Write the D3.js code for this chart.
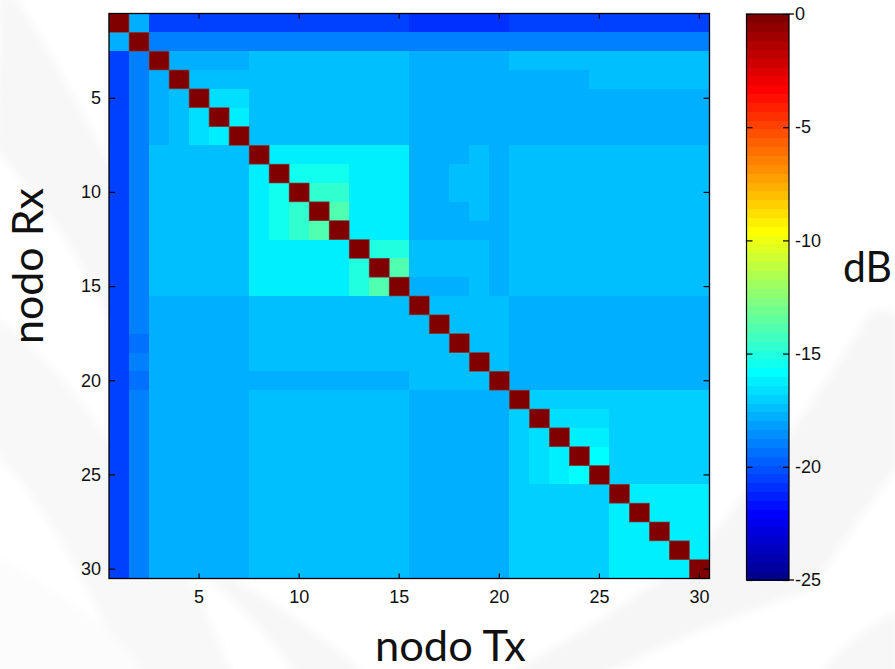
<!DOCTYPE html>
<html><head><meta charset="utf-8">
<script src="https://cdn.jsdelivr.net/npm/d3@7"></script>
<style>html,body{margin:0;padding:0;background:#fff}svg{display:block}
.tk{font-family:"Liberation Sans",Arial,sans-serif;font-size:18px;fill:#111}
.ttl{font-family:Lato,"Open Sans",sans-serif;font-size:42px;fill:#111}</style>
</head><body><svg id="c" width="895" height="669"></svg>
<script>
const nodes = d3.range(1, 31);
const tickNodes = [5, 10, 15, 20, 25, 30];
const dbTicks = [0, -5, -10, -15, -20, -25];
const labels = {x: "nodo Tx", y: "nodo Rx", bar: "dB"};
const jetIndex = [1, 8, 24, 40, 56, 64];
const jetColors = ["#00008f", "#0000ff", "#00ffff", "#ffff00", "#ff0000", "#800000"];
// received level in dB, row = Rx node, column = Tx node
const levelDb = [
[0,-17.8,-20.5,-20.5,-20.5,-20.5,-20.5,-20.5,-20.5,-20.5,-20.5,-20.5,-20.5,-20.5,-20.5,-20.9,-20.9,-20.9,-20.9,-20.9,-20.5,-20.5,-20.5,-20.5,-20.5,-20.5,-20.5,-20.5,-20.5,-20.5],
[-17.8,0,-18.9,-18.9,-18.9,-18.9,-18.9,-18.9,-18.9,-18.9,-18.9,-18.9,-18.9,-18.9,-18.9,-18.9,-18.9,-18.9,-18.9,-18.9,-18.9,-18.9,-18.9,-18.9,-18.9,-18.9,-18.9,-18.9,-18.9,-18.9],
[-20.5,-18.9,0,-17.8,-17.8,-17.8,-17.8,-17.4,-17.4,-17.4,-17.4,-17.4,-17.4,-17.4,-17.4,-17.8,-17.8,-17.8,-17.8,-17.8,-17.4,-17.4,-17.4,-17.4,-17.4,-17.4,-17.4,-17.4,-17.4,-17.4],
[-20.5,-18.9,-17.8,0,-17.4,-17.4,-17.4,-17.4,-17.4,-17.4,-17.4,-17.4,-17.4,-17.4,-17.4,-17.8,-17.8,-17.8,-17.8,-17.8,-17.8,-17.8,-17.8,-17.8,-17.4,-17.4,-17.4,-17.4,-17.4,-17.4],
[-20.5,-18.9,-17.8,-17.4,0,-16.6,-16.6,-17.4,-17.4,-17.4,-17.4,-17.4,-17.4,-17.4,-17.4,-17.8,-17.8,-17.8,-17.8,-17.8,-17.8,-17.8,-17.8,-17.8,-17.8,-17.8,-17.8,-17.8,-17.8,-17.8],
[-20.5,-18.9,-17.8,-17.4,-16.6,0,-16.2,-17.4,-17.4,-17.4,-17.4,-17.4,-17.4,-17.4,-17.4,-17.8,-17.8,-17.8,-17.8,-17.8,-17.8,-17.8,-17.8,-17.8,-17.8,-17.8,-17.8,-17.8,-17.8,-17.8],
[-20.5,-18.9,-17.8,-17.4,-16.6,-16.2,0,-17.4,-17.4,-17.4,-17.4,-17.4,-17.4,-17.4,-17.4,-17.8,-17.8,-17.8,-17.8,-17.8,-17.8,-17.8,-17.8,-17.8,-17.8,-17.8,-17.8,-17.8,-17.8,-17.8],
[-20.5,-18.9,-17.4,-17.4,-17.4,-17.4,-17.4,0,-16.2,-16.2,-16.2,-16.2,-16.2,-16.2,-16.2,-17.8,-17.8,-17.8,-17.4,-17.8,-17.4,-17.4,-17.4,-17.4,-17.4,-17.4,-17.4,-17.4,-17.4,-17.4],
[-20.5,-18.9,-17.4,-17.4,-17.4,-17.4,-17.4,-16.2,0,-15.4,-15.4,-15.4,-16.2,-16.2,-16.2,-17.8,-17.8,-17.4,-17.4,-17.8,-17.4,-17.4,-17.4,-17.4,-17.4,-17.4,-17.4,-17.4,-17.4,-17.4],
[-20.5,-18.9,-17.4,-17.4,-17.4,-17.4,-17.4,-16.2,-15.4,0,-14.6,-14.6,-16.2,-16.2,-16.2,-17.8,-17.8,-17.4,-17.4,-17.8,-17.4,-17.4,-17.4,-17.4,-17.4,-17.4,-17.4,-17.4,-17.4,-17.4],
[-20.5,-18.9,-17.4,-17.4,-17.4,-17.4,-17.4,-16.2,-15.4,-14.6,0,-13.9,-16.2,-16.2,-16.2,-17.8,-17.8,-17.8,-17.4,-17.8,-17.4,-17.4,-17.4,-17.4,-17.4,-17.4,-17.4,-17.4,-17.4,-17.4],
[-20.5,-18.9,-17.4,-17.4,-17.4,-17.4,-17.4,-16.2,-15.4,-14.6,-13.9,0,-16.2,-16.2,-16.2,-17.8,-17.8,-17.8,-17.8,-17.8,-17.4,-17.4,-17.4,-17.4,-17.4,-17.4,-17.4,-17.4,-17.4,-17.4],
[-20.5,-18.9,-17.4,-17.4,-17.4,-17.4,-17.4,-16.2,-16.2,-16.2,-16.2,-16.2,0,-15,-15,-17.4,-17.4,-17.4,-17.4,-17.8,-17.4,-17.4,-17.4,-17.4,-17.4,-17.4,-17.4,-17.4,-17.4,-17.4],
[-20.5,-18.9,-17.4,-17.4,-17.4,-17.4,-17.4,-16.2,-16.2,-16.2,-16.2,-16.2,-15,0,-13.9,-17.4,-17.4,-17.4,-17.4,-17.8,-17.4,-17.4,-17.4,-17.4,-17.4,-17.4,-17.4,-17.4,-17.4,-17.4],
[-20.5,-18.9,-17.4,-17.4,-17.4,-17.4,-17.4,-16.2,-16.2,-16.2,-16.2,-16.2,-15,-13.9,0,-17.8,-17.8,-17.8,-17.4,-17.8,-17.4,-17.4,-17.4,-17.4,-17.4,-17.4,-17.4,-17.4,-17.4,-17.4],
[-20.5,-18.9,-17.8,-17.8,-17.8,-17.8,-17.8,-17.4,-17.4,-17.4,-17.4,-17.4,-17.4,-17.4,-17.4,0,-17.4,-17.4,-17.4,-17.4,-17.8,-17.8,-17.8,-17.8,-17.8,-17.8,-17.8,-17.8,-17.8,-17.8],
[-20.5,-18.9,-17.8,-17.8,-17.8,-17.8,-17.8,-17.4,-17.4,-17.4,-17.4,-17.4,-17.4,-17.4,-17.4,-17.4,0,-17.4,-17.4,-17.4,-17.8,-17.8,-17.8,-17.8,-17.8,-17.8,-17.8,-17.8,-17.8,-17.8],
[-20.5,-19.3,-17.8,-17.8,-17.8,-17.8,-17.8,-17.4,-17.4,-17.4,-17.4,-17.4,-17.4,-17.4,-17.4,-17.4,-17.4,0,-17.4,-17.4,-17.8,-17.8,-17.8,-17.8,-17.8,-17.8,-17.8,-17.8,-17.8,-17.8],
[-20.5,-18.9,-17.8,-17.8,-17.8,-17.8,-17.8,-17.4,-17.4,-17.4,-17.4,-17.4,-17.4,-17.4,-17.4,-17.4,-17.4,-17.4,0,-17.4,-17.8,-17.8,-17.8,-17.8,-17.8,-17.8,-17.8,-17.8,-17.8,-17.8],
[-20.5,-19.3,-17.8,-17.8,-17.8,-17.8,-17.8,-17.8,-17.8,-17.8,-17.8,-17.8,-17.8,-17.8,-17.8,-17.4,-17.4,-17.4,-17.4,0,-17.8,-17.8,-17.8,-17.8,-17.8,-17.8,-17.8,-17.8,-17.8,-17.8],
[-20.5,-18.9,-17.8,-17.8,-17.8,-17.8,-17.8,-17.4,-17.4,-17.4,-17.4,-17.4,-17.4,-17.4,-17.4,-17.8,-17.8,-17.8,-17.8,-17.8,0,-17,-17,-17,-17,-17,-17,-17,-17,-17],
[-20.5,-18.9,-17.8,-17.8,-17.8,-17.8,-17.8,-17.4,-17.4,-17.4,-17.4,-17.4,-17.4,-17.4,-17.4,-17.8,-17.8,-17.8,-17.8,-17.8,-17,0,-16.6,-16.6,-16.6,-17,-17,-17,-17,-17],
[-20.5,-18.9,-17.8,-17.8,-17.8,-17.8,-17.8,-17.4,-17.4,-17.4,-17.4,-17.4,-17.4,-17.4,-17.4,-17.8,-17.8,-17.8,-17.8,-17.8,-17,-16.6,0,-16.2,-16.2,-17,-17,-17,-17,-17],
[-20.5,-18.9,-17.8,-17.8,-17.8,-17.8,-17.8,-17.4,-17.4,-17.4,-17.4,-17.4,-17.4,-17.4,-17.4,-17.8,-17.8,-17.8,-17.8,-17.8,-17,-16.6,-16.2,0,-15.8,-17,-17,-17,-17,-17],
[-20.5,-18.9,-17.8,-17.8,-17.8,-17.8,-17.8,-17.4,-17.4,-17.4,-17.4,-17.4,-17.4,-17.4,-17.4,-17.8,-17.8,-17.8,-17.8,-17.8,-17,-16.6,-16.2,-15.8,0,-17,-17,-17,-17,-17],
[-20.5,-18.9,-17.8,-17.8,-17.8,-17.8,-17.8,-17.4,-17.4,-17.4,-17.4,-17.4,-17.4,-17.4,-17.4,-17.8,-17.8,-17.8,-17.8,-17.8,-17,-17,-17,-17,-17,0,-16.2,-16.2,-16.2,-16.2],
[-20.5,-18.9,-17.8,-17.8,-17.8,-17.8,-17.8,-17.4,-17.4,-17.4,-17.4,-17.4,-17.4,-17.4,-17.4,-17.8,-17.8,-17.8,-17.8,-17.8,-17,-17,-17,-17,-17,-16.2,0,-16.2,-16.2,-16.2],
[-20.5,-18.9,-17.8,-17.8,-17.8,-17.8,-17.8,-17.4,-17.4,-17.4,-17.4,-17.4,-17.4,-17.4,-17.4,-17.8,-17.8,-17.8,-17.8,-17.8,-17,-17,-17,-17,-17,-16.2,-16.2,0,-16.2,-16.2],
[-20.5,-18.9,-17.8,-17.8,-17.8,-17.8,-17.8,-17.4,-17.4,-17.4,-17.4,-17.4,-17.4,-17.4,-17.4,-17.8,-17.8,-17.8,-17.8,-17.8,-17,-17,-17,-17,-17,-16.2,-16.2,-16.2,0,-16.2],
[-20.5,-18.9,-17.8,-17.8,-17.8,-17.8,-17.8,-17.4,-17.4,-17.4,-17.4,-17.4,-17.4,-17.4,-17.4,-17.8,-17.8,-17.8,-17.8,-17.8,-17,-17,-17,-17,-17,-16.2,-16.2,-16.2,-16.2,0]
];

const svg = d3.select("#c");

// faint template swooshes behind the chart
const defs = svg.append("defs");
defs.append("filter").attr("id","soft").append("feGaussianBlur").attr("stdDeviation",4);
const swooshes = [
 ["M0,-5 L14,-5 C50,50 85,115 115,175 L115,335 C85,260 40,200 -5,150 Z", "#f7f7f7"],
 ["M-5,316 C40,350 85,400 115,450 C150,500 200,590 235,680 L130,680 C90,590 50,510 -5,453 Z", "#f8f8f8"],
 ["M-5,555 C40,580 85,610 120,640 L150,680 L-5,680 Z", "#fcfcfc"],
 ["M228,575 C270,600 330,640 372,680 L300,680 C270,640 240,600 200,575 Z", "#f7f7f7"],
 ["M870,312 C885,308 895,312 900,318 L900,462 C860,520 830,560 811,590 C720,620 650,650 594,680 L500,680 C600,620 690,570 740,500 C770,460 830,380 870,312 Z", "#f6f6f6"],
 ["M900,610 C860,630 830,655 817,680 L900,680 Z", "#f7f7f7"]
];
svg.append("g").attr("filter","url(#soft)").selectAll("path").data(swooshes).join("path")
  .attr("d", d => d[0]).attr("fill", d => d[1]);

// jet colormap, 64 steps
const jet = d3.scaleLinear().domain(jetIndex).range(jetColors).interpolate(d3.interpolateRgb);
const jet64 = d3.range(1, 65).map(i => jet(i));
const color = d3.scaleQuantize().domain([-25, 0]).range(jet64);

const x = d3.scaleBand().domain(nodes).range([109, 709.5]);
const y = d3.scaleBand().domain(nodes).range([13.5, 578.5]);

// heatmap
const cells = levelDb.flatMap((row, r) => row.map((v, c) => ({r: nodes[r], c: nodes[c], v})));
svg.append("g").attr("shape-rendering","crispEdges").selectAll("rect").data(cells).join("rect")
  .attr("x", d => x(d.c)).attr("y", d => y(d.r))
  .attr("width", x.bandwidth()+0.5).attr("height", y.bandwidth()+0.5)
  .attr("fill", d => color(d.v));
// diagonal cells sit on top
svg.append("g").selectAll("rect").data(cells.filter(d => d.r === d.c)).join("rect")
  .attr("x", d => x(d.c)).attr("y", d => y(d.r))
  .attr("width", x.bandwidth()).attr("height", y.bandwidth())
  .attr("fill", d => color(d.v)).attr("stroke", "#6d5a5a").attr("stroke-width", 0.7);

function styleAxis(g){ g.select(".domain").remove(); g.selectAll("line").attr("stroke","#000").attr("stroke-width",1.2);
  g.selectAll("text").attr("class","tk").attr("fill",null); g.attr("font-family",null).attr("font-size",null); }

svg.append("g").attr("transform","translate(0,578.5)")
  .call(d3.axisBottom(x).tickValues(tickNodes).tickSizeInner(-5).tickSizeOuter(0).tickPadding(12)).call(styleAxis);
svg.append("g").attr("transform","translate(0,13.5)")
  .call(d3.axisTop(x).tickValues(tickNodes).tickFormat("").tickSizeInner(-5).tickSizeOuter(0)).call(styleAxis);
svg.append("g").attr("transform","translate(109,0)")
  .call(d3.axisLeft(y).tickValues(tickNodes).tickSizeInner(-6).tickSizeOuter(0).tickPadding(8)).call(styleAxis);
svg.append("g").attr("transform","translate(709.5,0)")
  .call(d3.axisRight(y).tickValues(tickNodes).tickFormat("").tickSizeInner(-6).tickSizeOuter(0)).call(styleAxis);

// axes frame
svg.append("rect").attr("x",109).attr("y",13.5).attr("width",600.5).attr("height",565)
  .attr("fill","none").attr("stroke","#000").attr("stroke-width",1.3);

// colour bar
const bar = d3.scaleLinear().domain([-25, 0]).range([580, 14]);
const step = 25 / 64;
svg.append("g").attr("shape-rendering","crispEdges").selectAll("rect").data(jet64).join("rect")
  .attr("x",746.5).attr("width",42.5)
  .attr("y",(d,i) => bar(-25 + (i+1)*step)).attr("height",(bar(0)-bar(step))+0.5)
  .attr("fill",d => d);
svg.append("g").attr("transform","translate(789,0)")
  .call(d3.axisRight(bar).tickValues(dbTicks).tickFormat(d => d === 0 ? "0" : "-" + Math.abs(d))
    .tickSizeInner(-6).tickSizeOuter(0).tickPadding(6)).call(styleAxis);
svg.append("g").attr("transform","translate(746.5,0)")
  .call(d3.axisLeft(bar).tickValues(dbTicks).tickFormat("").tickSizeInner(-6).tickSizeOuter(0)).call(styleAxis);
svg.append("rect").attr("x",746.5).attr("y",14).attr("width",42.5).attr("height",566)
  .attr("fill","none").attr("stroke","#000").attr("stroke-width",1.2);
svg.append("g").selectAll("line").data([0,-25]).join("line")
  .attr("x1",789).attr("x2",794).attr("y1",d=>bar(d)).attr("y2",d=>bar(d)).attr("stroke","#000").attr("stroke-width",1.3);

// titles
svg.append("text").attr("class","ttl").attr("x",375).attr("y",661)
  .attr("textLength",151).attr("lengthAdjust","spacingAndGlyphs").text(labels.x);
svg.append("text").attr("class","ttl").attr("transform","translate(43,344) rotate(-90)")
  .attr("textLength",156).attr("lengthAdjust","spacingAndGlyphs").text(labels.y);
svg.append("text").attr("class","ttl").attr("x",843).attr("y",282)
  .attr("textLength",49).attr("lengthAdjust","spacingAndGlyphs").text(labels.bar);
</script></body></html>
